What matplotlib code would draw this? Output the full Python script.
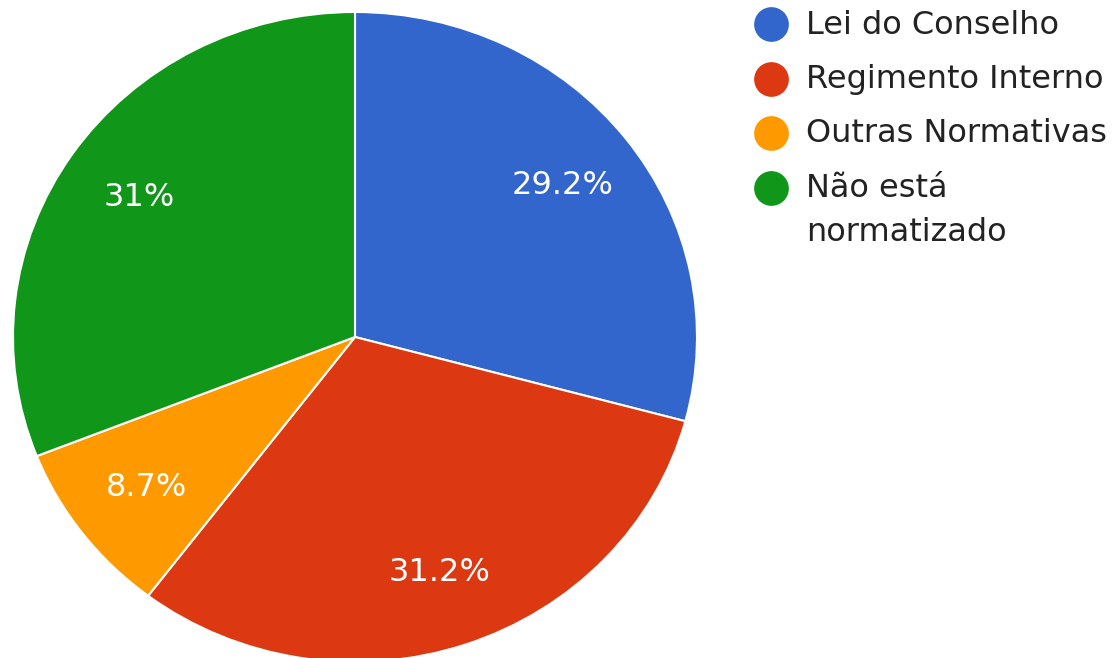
import matplotlib
matplotlib.use("Agg")
import matplotlib.pyplot as plt
import numpy as np

categories = ["Lei do Conselho", "Regimento Interno", "Outras Normativas", "Não está\nnormatizado"]
values = [29.2, 31.2, 8.7, 31.0]
pct_labels = ["29.2%", "31.2%", "8.7%", "31%"]
colors = ["#3366CC", "#DC3912", "#FF9900", "#109618"]

plt.rcParams['font.family'] = ['DejaVu Sans']

W, H = 1115, 658
fig = plt.figure(figsize=(W / 100, H / 100), dpi=100)

# pie axes (pixel box: x 13..697, y 12..662 from top)
ax = fig.add_axes([13 / W, (H - 662) / H, 684 / W, 650 / H])
wedges, _ = ax.pie(values, colors=colors, startangle=90, counterclock=False,
                   wedgeprops=dict(edgecolor="white", linewidth=1.5))
ax.set_aspect('auto')
ax.set_xlim(-1, 1)
ax.set_ylim(-1, 1)

for w, lab in zip(wedges, pct_labels):
    ang = np.deg2rad((w.theta1 + w.theta2) / 2)
    r = 0.765
    ax.text(r * np.cos(ang), r * np.sin(ang), lab, ha="center", va="center",
            color="white", fontsize=23)

# legend
lax = fig.add_axes([0, 0, 1, 1])
lax.set_xlim(0, W)
lax.set_ylim(H, 0)
lax.axis("off")
y0, dy = 24, 54.5
for i, (cat, c) in enumerate(zip(categories, colors)):
    y = y0 + i * dy
    lax.plot([771], [y], marker="o", markersize=25, color=c, markeredgewidth=0)
    for j, ln in enumerate(cat.split("\n")):
        lax.text(806, y + 1 + j * 44, ln, ha="left", va="center", fontsize=23,
                 color="#222222")

fig.savefig("out.png", dpi=100)
